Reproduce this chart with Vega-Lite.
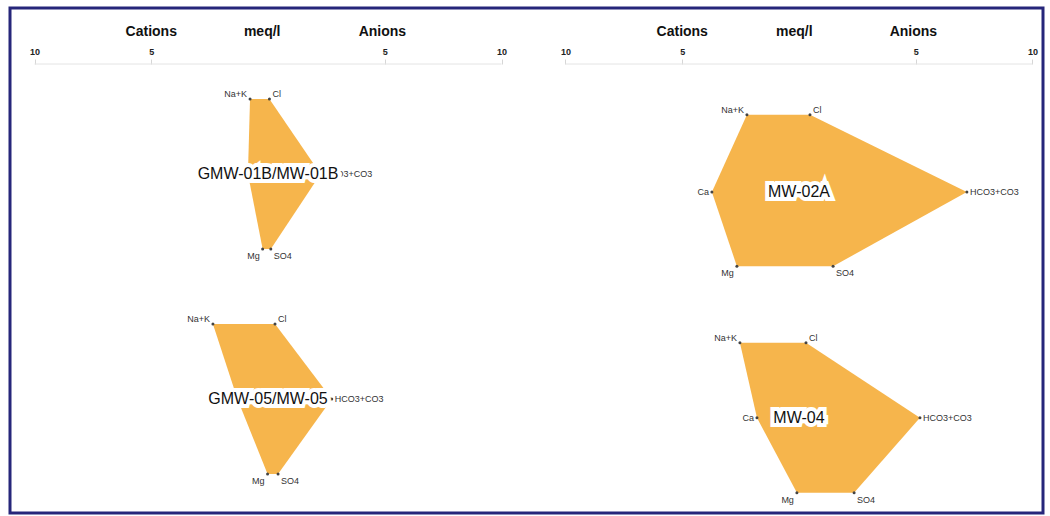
{
  "$schema": "https://vega.github.io/schema/vega-lite/v6.json",
  "width": 1050,
  "height": 516,
  "autosize": {"type": "fit", "contains": "padding"},
  "padding": {"left": 10, "top": 8, "right": 7, "bottom": 3},
  "background": "white",
  "config": {"view": {"stroke": "#26267a", "strokeWidth": 3}, "font": "Liberation Sans"},
  "datasets": {
    "ions": [
      {"panel": "L", "sample": "GMW-01B/MW-01B", "level": 1, "y": 1, "cation": -0.77, "anion": 0.06, "cationIon": "Na+K", "anionIon": "Cl"},
      {"panel": "L", "sample": "GMW-01B/MW-01B", "level": 2, "y": 2, "cation": -0.86, "anion": 2.25, "cationIon": "Ca", "anionIon": "HCO3+CO3"},
      {"panel": "L", "sample": "GMW-01B/MW-01B", "level": 3, "y": 3, "cation": -0.23, "anion": 0.12, "cationIon": "Mg", "anionIon": "SO4"},
      {"panel": "L", "sample": "GMW-05/MW-05", "level": 1, "y": 4, "cation": -2.36, "anion": 0.3, "cationIon": "Na+K", "anionIon": "Cl"},
      {"panel": "L", "sample": "GMW-05/MW-05", "level": 2, "y": 5, "cation": -1.31, "anion": 2.73, "cationIon": "Ca", "anionIon": "HCO3+CO3"},
      {"panel": "L", "sample": "GMW-05/MW-05", "level": 3, "y": 6, "cation": -0.02, "anion": 0.43, "cationIon": "Mg", "anionIon": "SO4"},
      {"panel": "R", "sample": "MW-02A", "level": 1, "y": 1.21, "cation": -2.23, "anion": 0.47, "cationIon": "Na+K", "anionIon": "Cl"},
      {"panel": "R", "sample": "MW-02A", "level": 2, "y": 2.24, "cation": -3.73, "anion": 7.19, "cationIon": "Ca", "anionIon": "HCO3+CO3"},
      {"panel": "R", "sample": "MW-02A", "level": 3, "y": 3.23, "cation": -2.66, "anion": 1.46, "cationIon": "Mg", "anionIon": "SO4"},
      {"panel": "R", "sample": "MW-04", "level": 1, "y": 4.25, "cation": -2.53, "anion": 0.3, "cationIon": "Na+K", "anionIon": "Cl"},
      {"panel": "R", "sample": "MW-04", "level": 2, "y": 5.25, "cation": -1.8, "anion": 5.18, "cationIon": "Ca", "anionIon": "HCO3+CO3"},
      {"panel": "R", "sample": "MW-04", "level": 3, "y": 6.25, "cation": -0.09, "anion": 2.36, "cationIon": "Mg", "anionIon": "SO4"}
    ],
    "titles": [
      {"panel": "L", "text": "Cations", "x": -5},
      {"panel": "L", "text": "meq/l", "x": -0.25},
      {"panel": "L", "text": "Anions", "x": 4.9},
      {"panel": "R", "text": "Cations", "x": -5},
      {"panel": "R", "text": "meq/l", "x": -0.2},
      {"panel": "R", "text": "Anions", "x": 4.9}
    ]
  },
  "layer": [
    {
      "data": {"name": "ions"},
      "transform": [{"filter": "datum.panel == 'L'"}],
      "mark": {"type": "area", "orient": "horizontal", "color": "#F6B54C", "opacity": 1},
      "encoding": {
        "x": {"field": "cation", "type": "quantitative", "stack": null, "scale": {"domain": [-11.05, 33.19], "nice": false, "zero": false},
              "axis": {"orient": "top", "offset": -56, "values": [-10, -5, 5, 10], "labelExpr": "abs(datum.value)", "domain": false, "grid": false, "ticks": true, "tickSize": 5, "tickColor": "#d6d6d6", "labelPadding": 3, "labelFontSize": 9, "labelFontWeight": "bold", "labelColor": "#222", "labelFlush": false, "labelOverlap": false, "title": null}},
        "x2": {"field": "anion"},
        "y": {"field": "y", "type": "quantitative", "scale": {"domain": [-0.213, 6.52], "nice": false, "zero": false, "reverse": true}, "axis": null},
        "detail": {"field": "sample"}
      }
    },
    {
      "data": {"name": "ions"},
      "transform": [{"filter": "datum.panel == 'R'"}],
      "mark": {"type": "area", "orient": "horizontal", "color": "#F6B54C", "opacity": 1},
      "encoding": {
        "x": {"field": "cation", "type": "quantitative", "stack": null, "scale": {"domain": [-33.79, 10.45], "nice": false, "zero": false},
              "axis": {"orient": "top", "offset": -56, "values": [-10, -5, 5, 10], "labelExpr": "abs(datum.value)", "domain": false, "grid": false, "ticks": true, "tickSize": 5, "tickColor": "#d6d6d6", "labelPadding": 3, "labelFontSize": 9, "labelFontWeight": "bold", "labelColor": "#222", "labelFlush": false, "labelOverlap": false, "title": null}},
        "x2": {"field": "anion"},
        "y": {"field": "y", "type": "quantitative", "axis": null},
        "detail": {"field": "sample"}
      }
    },
    {
      "data": {"values": [{}]},
      "mark": {"type": "rule", "color": "#e4e4e4", "strokeWidth": 1},
      "encoding": {
        "x": {"datum": -10, "type": "quantitative", "scale": {"domain": [-11.05, 33.19], "nice": false, "zero": false}, "axis": null},
        "x2": {"datum": 10},
        "y": {"datum": 0.534, "type": "quantitative", "axis": null}
      }
    },
    {
      "data": {"values": [{}]},
      "mark": {"type": "rule", "color": "#e4e4e4", "strokeWidth": 1},
      "encoding": {
        "x": {"datum": -10, "type": "quantitative", "scale": {"domain": [-33.79, 10.45], "nice": false, "zero": false}, "axis": null},
        "x2": {"datum": 10},
        "y": {"datum": 0.534, "type": "quantitative", "axis": null}
      }
    },
    {
      "data": {"name": "ions"},
      "transform": [{"filter": "datum.panel == 'L'"}],
      "mark": {"type": "circle", "size": 9, "color": "#444", "opacity": 1},
      "encoding": {
        "x": {"field": "cation", "type": "quantitative", "scale": {"domain": [-11.05, 33.19], "nice": false, "zero": false}, "axis": null},
        "y": {"field": "y", "type": "quantitative", "axis": null}
      }
    },
    {
      "data": {"name": "ions"},
      "transform": [{"filter": "datum.panel == 'L'"}],
      "mark": {"type": "circle", "size": 9, "color": "#444", "opacity": 1},
      "encoding": {
        "x": {"field": "anion", "type": "quantitative", "scale": {"domain": [-11.05, 33.19], "nice": false, "zero": false}, "axis": null},
        "y": {"field": "y", "type": "quantitative", "axis": null}
      }
    },
    {
      "data": {"name": "ions"},
      "transform": [{"filter": "datum.panel == 'R'"}],
      "mark": {"type": "circle", "size": 9, "color": "#444", "opacity": 1},
      "encoding": {
        "x": {"field": "cation", "type": "quantitative", "scale": {"domain": [-33.79, 10.45], "nice": false, "zero": false}, "axis": null},
        "y": {"field": "y", "type": "quantitative", "axis": null}
      }
    },
    {
      "data": {"name": "ions"},
      "transform": [{"filter": "datum.panel == 'R'"}],
      "mark": {"type": "circle", "size": 9, "color": "#444", "opacity": 1},
      "encoding": {
        "x": {"field": "anion", "type": "quantitative", "scale": {"domain": [-33.79, 10.45], "nice": false, "zero": false}, "axis": null},
        "y": {"field": "y", "type": "quantitative", "axis": null}
      }
    },
    {
      "data": {"name": "ions"},
      "transform": [{"filter": "datum.panel == 'L'"}],
      "mark": {"type": "text", "align": "right", "baseline": "middle", "dx": -3, "dy": {"expr": "datum.level == 1 ? -5 : (datum.level == 3 ? 7 : 0)"}, "fontSize": 9, "color": "#333"},
      "encoding": {
        "x": {"field": "cation", "type": "quantitative", "scale": {"domain": [-11.05, 33.19], "nice": false, "zero": false}, "axis": null},
        "y": {"field": "y", "type": "quantitative", "axis": null},
        "text": {"field": "cationIon"}
      }
    },
    {
      "data": {"name": "ions"},
      "transform": [{"filter": "datum.panel == 'L'"}],
      "mark": {"type": "text", "align": "left", "baseline": "middle", "dx": 3, "dy": {"expr": "datum.level == 1 ? -5 : (datum.level == 3 ? 7 : 0)"}, "fontSize": 9, "color": "#333"},
      "encoding": {
        "x": {"field": "anion", "type": "quantitative", "scale": {"domain": [-11.05, 33.19], "nice": false, "zero": false}, "axis": null},
        "y": {"field": "y", "type": "quantitative", "axis": null},
        "text": {"field": "anionIon"}
      }
    },
    {
      "data": {"name": "ions"},
      "transform": [{"filter": "datum.panel == 'R'"}],
      "mark": {"type": "text", "align": "right", "baseline": "middle", "dx": -3, "dy": {"expr": "datum.level == 1 ? -5 : (datum.level == 3 ? 7 : 0)"}, "fontSize": 9, "color": "#333"},
      "encoding": {
        "x": {"field": "cation", "type": "quantitative", "scale": {"domain": [-33.79, 10.45], "nice": false, "zero": false}, "axis": null},
        "y": {"field": "y", "type": "quantitative", "axis": null},
        "text": {"field": "cationIon"}
      }
    },
    {
      "data": {"name": "ions"},
      "transform": [{"filter": "datum.panel == 'R'"}],
      "mark": {"type": "text", "align": "left", "baseline": "middle", "dx": 3, "dy": {"expr": "datum.level == 1 ? -5 : (datum.level == 3 ? 7 : 0)"}, "fontSize": 9, "color": "#333"},
      "encoding": {
        "x": {"field": "anion", "type": "quantitative", "scale": {"domain": [-33.79, 10.45], "nice": false, "zero": false}, "axis": null},
        "y": {"field": "y", "type": "quantitative", "axis": null},
        "text": {"field": "anionIon"}
      }
    },
    {
      "data": {"name": "ions"},
      "transform": [{"filter": "datum.panel == 'L' && datum.level == 2"}],
      "mark": {"type": "text", "align": "center", "baseline": "middle", "fontSize": 16, "fill": "white", "stroke": "white", "strokeWidth": 8, "strokeJoin": "miter"},
      "encoding": {
        "x": {"datum": 0, "type": "quantitative", "scale": {"domain": [-11.05, 33.19], "nice": false, "zero": false}, "axis": null},
        "y": {"field": "y", "type": "quantitative", "axis": null},
        "text": {"field": "sample"}
      }
    },
    {
      "data": {"name": "ions"},
      "transform": [{"filter": "datum.panel == 'L' && datum.level == 2"}],
      "mark": {"type": "text", "align": "center", "baseline": "middle", "fontSize": 16, "color": "#111"},
      "encoding": {
        "x": {"datum": 0, "type": "quantitative", "scale": {"domain": [-11.05, 33.19], "nice": false, "zero": false}, "axis": null},
        "y": {"field": "y", "type": "quantitative", "axis": null},
        "text": {"field": "sample"}
      }
    },
    {
      "data": {"name": "ions"},
      "transform": [{"filter": "datum.panel == 'R' && datum.level == 2"}],
      "mark": {"type": "text", "align": "center", "baseline": "middle", "fontSize": 16, "fill": "white", "stroke": "white", "strokeWidth": 8, "strokeJoin": "miter"},
      "encoding": {
        "x": {"datum": 0, "type": "quantitative", "scale": {"domain": [-33.79, 10.45], "nice": false, "zero": false}, "axis": null},
        "y": {"field": "y", "type": "quantitative", "axis": null},
        "text": {"field": "sample"}
      }
    },
    {
      "data": {"name": "ions"},
      "transform": [{"filter": "datum.panel == 'R' && datum.level == 2"}],
      "mark": {"type": "text", "align": "center", "baseline": "middle", "fontSize": 16, "color": "#111"},
      "encoding": {
        "x": {"datum": 0, "type": "quantitative", "scale": {"domain": [-33.79, 10.45], "nice": false, "zero": false}, "axis": null},
        "y": {"field": "y", "type": "quantitative", "axis": null},
        "text": {"field": "sample"}
      }
    },
    {
      "data": {"name": "titles"},
      "transform": [{"filter": "datum.panel == 'L'"}],
      "mark": {"type": "text", "align": "center", "baseline": "middle", "fontSize": 14, "fontWeight": "bold", "color": "#111"},
      "encoding": {
        "x": {"field": "x", "type": "quantitative", "scale": {"domain": [-11.05, 33.19], "nice": false, "zero": false}, "axis": null},
        "y": {"datum": 0.107, "type": "quantitative", "axis": null},
        "text": {"field": "text"}
      }
    },
    {
      "data": {"name": "titles"},
      "transform": [{"filter": "datum.panel == 'R'"}],
      "mark": {"type": "text", "align": "center", "baseline": "middle", "fontSize": 14, "fontWeight": "bold", "color": "#111"},
      "encoding": {
        "x": {"field": "x", "type": "quantitative", "scale": {"domain": [-33.79, 10.45], "nice": false, "zero": false}, "axis": null},
        "y": {"datum": 0.107, "type": "quantitative", "axis": null},
        "text": {"field": "text"}
      }
    }
  ],
  "resolve": {"scale": {"x": "independent"}, "axis": {"x": "independent"}}
}
